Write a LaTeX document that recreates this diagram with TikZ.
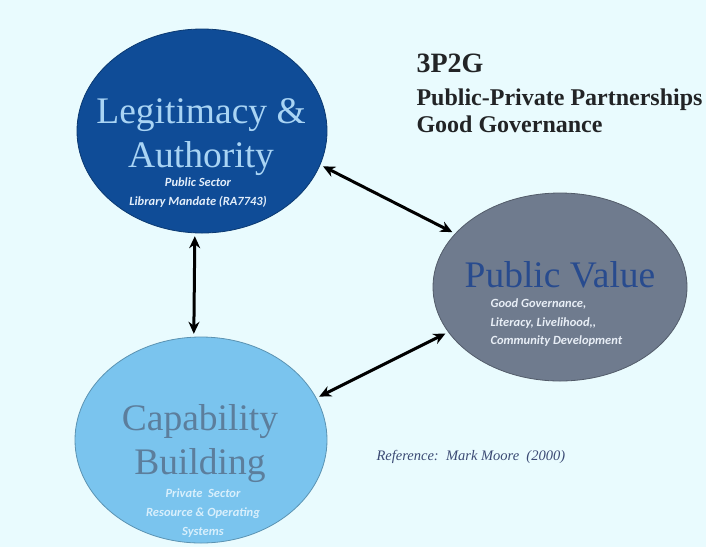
\documentclass[tikz,border=0pt]{standalone}
\usepackage{fontspec}
\setmainfont{Liberation Serif}
\newfontfamily\notefont{Carlito}
\usetikzlibrary{positioning}
\usetikzlibrary{shapes.geometric}
\usetikzlibrary{arrows.meta}

\definecolor{bgcyan}{HTML}{E9FBFE}
\definecolor{legfill}{HTML}{0F4C97}
\definecolor{legtext}{HTML}{A9D4F4}
\definecolor{legnote}{HTML}{E3EEFA}
\definecolor{pvfill}{HTML}{6F7B8E}
\definecolor{pvtext}{HTML}{284B8E}
\definecolor{pvnote}{HTML}{E8EEF6}
\definecolor{capfill}{HTML}{7AC4EE}
\definecolor{captext}{HTML}{5C7E9C}
\definecolor{capnote}{HTML}{D8EFFC}
\definecolor{headtext}{HTML}{222426}
\definecolor{reftext}{HTML}{3B4A74}

\tikzset{
  bubble/.style={ellipse, inner sep=0pt, draw=#1!75!black, line width=0.8pt, fill=#1},
  bigtext/.style={font=\fontsize{37.5}{44}\selectfont, align=center},
  smalltext/.style={font=\notefont\bfseries\itshape\fontsize{12.5}{19}\selectfont, align=center},
  headline/.style={anchor=base west, text=headtext, font=\bfseries\fontsize{24}{24}\selectfont},
  dblarrow/.style={{Stealth[length=12pt,width=11pt]}-{Stealth[length=12pt,width=11pt]},
    line width=3pt, shorten <=3pt, shorten >=3pt}
}

\begin{document}
\begin{tikzpicture}[x=1pt,y=-1pt]
    % Page and background
    \fill[bgcyan] (0,0) rectangle (706,547);
    \useasboundingbox (0,0) rectangle (706,547);

    % The three ellipses
    \node[bubble=legfill, minimum width=250pt, minimum height=204pt] (leg) at (202,131) {};
    \node[bubble=pvfill, minimum width=254pt, minimum height=188pt] (pv) at (560,287) {};
    \node[bubble=capfill, minimum width=252pt, minimum height=206pt] (cap) at (201,440) {};

    % Text inside the ellipses
    \node[bigtext, text=legtext] (legtitle) at (201,137) {Legitimacy \&\\Authority};
    \node[smalltext, text=legnote] (legsub) at (198,193) {Public Sector\\Library Mandate (RA7743)};

    \node[bigtext, text=pvtext, anchor=base] (pvtitle) at (560,287) {Public Value};
    \node[smalltext, text=pvnote, align=left, anchor=west, font=\notefont\bfseries\itshape\fontsize{12.5}{18.5}\selectfont] (pvsub) at (487,323)
        {Good Governance,\\Literacy, Livelihood,,\\Community Development};

    \node[bigtext, text=captext] (captitle) at (200,444) {Capability\\Building};
    \node[smalltext, text=capnote] (capsub) at (203,513) {Private\ \ Sector\\Resource \& Operating\\Systems};

    % Heading at the top right
    \node[headline, font=\bfseries\fontsize{28}{28}\selectfont] (head) at (413,72) {3P2G};
    \node[headline] (headppp) at (413,105) {Public-Private Partnerships};
    \node[headline] (headgg) at (413,132) {Good Governance};

    % Source note
    \node[anchor=west, text=reftext, font=\itshape\fontsize{14.5}{14.5}\selectfont] (ref) at (373,457)
        {Reference:\ \ Mark Moore\ \ (2000)};

    % Double arrows between the ellipses
    \foreach \from/\to in {leg.266/cap.94, leg.-16/pv.153, cap.20/pv.202}
        \draw[dblarrow] (\from) -- (\to);
\end{tikzpicture}
\end{document}
